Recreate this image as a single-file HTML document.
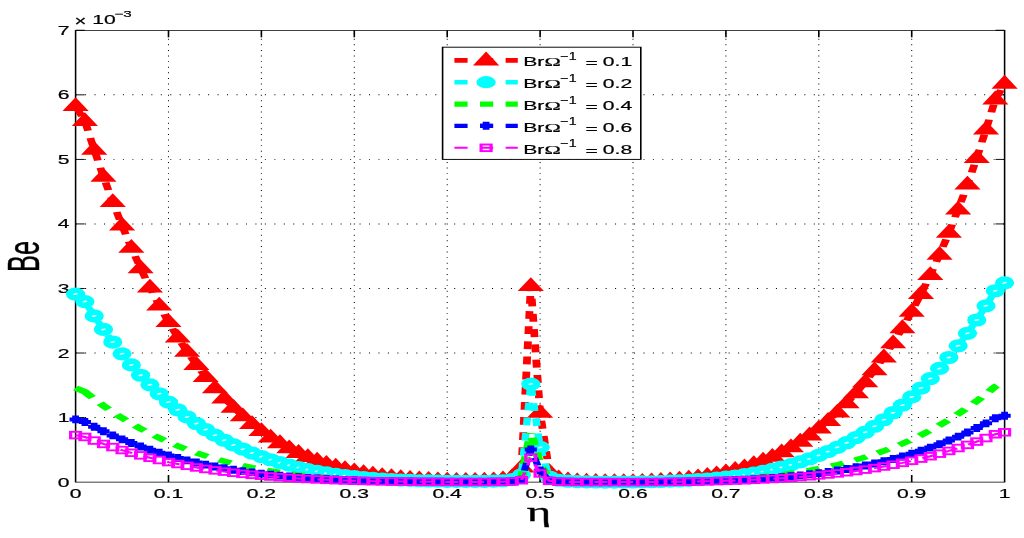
<!DOCTYPE html>
<html><head><meta charset="utf-8"><title>Be vs eta</title>
<style>html,body{margin:0;padding:0;background:#fff;overflow:hidden}svg{display:block}text{font-family:"Liberation Sans",sans-serif;fill:#000}.sym{font-family:"Liberation Serif",serif}</style></head><body>
<svg width="1024" height="538" viewBox="0 0 605.917 538" preserveAspectRatio="none">
<rect x="0" y="0" width="605.917" height="538" fill="#fff"/>
<g stroke="#000" fill="none">
<g stroke-width="0.62" stroke-dasharray="0.95 4.65">
<line x1="99.70" y1="482.1" x2="99.70" y2="30.3"/>
<line x1="154.67" y1="482.1" x2="154.67" y2="30.3"/>
<line x1="209.64" y1="482.1" x2="209.64" y2="30.3"/>
<line x1="264.62" y1="482.1" x2="264.62" y2="30.3"/>
<line x1="319.59" y1="482.1" x2="319.59" y2="30.3"/>
<line x1="374.56" y1="482.1" x2="374.56" y2="30.3"/>
<line x1="429.53" y1="482.1" x2="429.53" y2="30.3"/>
<line x1="484.50" y1="482.1" x2="484.50" y2="30.3"/>
<line x1="539.47" y1="482.1" x2="539.47" y2="30.3"/>
</g><g stroke-width="0.95" stroke-dasharray="0.62 4.98">
<line x1="44.73" y1="417.56" x2="594.44" y2="417.56"/>
<line x1="44.73" y1="353.01" x2="594.44" y2="353.01"/>
<line x1="44.73" y1="288.47" x2="594.44" y2="288.47"/>
<line x1="44.73" y1="223.93" x2="594.44" y2="223.93"/>
<line x1="44.73" y1="159.39" x2="594.44" y2="159.39"/>
<line x1="44.73" y1="94.84" x2="594.44" y2="94.84"/>
</g></g>
<g stroke="#000" stroke-width="0.95" fill="none">
<path d="M44.73 30.3H594.44" stroke-width="0.78" stroke-linecap="square"/>
<path d="M44.73 482.1H594.44" stroke-width="0.85" stroke-linecap="square"/>
<path d="M44.73 30.3h5.4M594.44 30.3h-5.4"/>
<path d="M44.73 30.3V482.1M594.44 30.3V482.1" stroke-width="0.92"/>
<line x1="99.70" y1="482.1" x2="99.70" y2="475.1"/><line x1="99.70" y1="30.3" x2="99.70" y2="37.3"/>
<line x1="154.67" y1="482.1" x2="154.67" y2="475.1"/><line x1="154.67" y1="30.3" x2="154.67" y2="37.3"/>
<line x1="209.64" y1="482.1" x2="209.64" y2="475.1"/><line x1="209.64" y1="30.3" x2="209.64" y2="37.3"/>
<line x1="264.62" y1="482.1" x2="264.62" y2="475.1"/><line x1="264.62" y1="30.3" x2="264.62" y2="37.3"/>
<line x1="319.59" y1="482.1" x2="319.59" y2="475.1"/><line x1="319.59" y1="30.3" x2="319.59" y2="37.3"/>
<line x1="374.56" y1="482.1" x2="374.56" y2="475.1"/><line x1="374.56" y1="30.3" x2="374.56" y2="37.3"/>
<line x1="429.53" y1="482.1" x2="429.53" y2="475.1"/><line x1="429.53" y1="30.3" x2="429.53" y2="37.3"/>
<line x1="484.50" y1="482.1" x2="484.50" y2="475.1"/><line x1="484.50" y1="30.3" x2="484.50" y2="37.3"/>
<line x1="539.47" y1="482.1" x2="539.47" y2="475.1"/><line x1="539.47" y1="30.3" x2="539.47" y2="37.3"/>
<line x1="44.73" y1="417.56" x2="50.13" y2="417.56"/><line x1="594.44" y1="417.56" x2="589.04" y2="417.56"/>
<line x1="44.73" y1="353.01" x2="50.13" y2="353.01"/><line x1="594.44" y1="353.01" x2="589.04" y2="353.01"/>
<line x1="44.73" y1="288.47" x2="50.13" y2="288.47"/><line x1="594.44" y1="288.47" x2="589.04" y2="288.47"/>
<line x1="44.73" y1="223.93" x2="50.13" y2="223.93"/><line x1="594.44" y1="223.93" x2="589.04" y2="223.93"/>
<line x1="44.73" y1="159.39" x2="50.13" y2="159.39"/><line x1="594.44" y1="159.39" x2="589.04" y2="159.39"/>
<line x1="44.73" y1="94.84" x2="50.13" y2="94.84"/><line x1="594.44" y1="94.84" x2="589.04" y2="94.84"/>
</g>
<g font-size="12.5" stroke="#000" stroke-width="0.2">
<text x="44.73" y="498.0" text-anchor="middle">0</text>
<text x="99.70" y="498.0" text-anchor="middle">0.1</text>
<text x="154.67" y="498.0" text-anchor="middle">0.2</text>
<text x="209.64" y="498.0" text-anchor="middle">0.3</text>
<text x="264.62" y="498.0" text-anchor="middle">0.4</text>
<text x="319.59" y="498.0" text-anchor="middle">0.5</text>
<text x="374.56" y="498.0" text-anchor="middle">0.6</text>
<text x="429.53" y="498.0" text-anchor="middle">0.7</text>
<text x="484.50" y="498.0" text-anchor="middle">0.8</text>
<text x="539.47" y="498.0" text-anchor="middle">0.9</text>
<text x="594.44" y="498.0" text-anchor="middle">1</text>
<text x="41.07" y="486.60" text-anchor="end">0</text>
<text x="41.07" y="422.06" text-anchor="end">1</text>
<text x="41.07" y="357.51" text-anchor="end">2</text>
<text x="41.07" y="292.97" text-anchor="end">3</text>
<text x="41.07" y="228.43" text-anchor="end">4</text>
<text x="41.07" y="163.89" text-anchor="end">5</text>
<text x="41.07" y="99.34" text-anchor="end">6</text>
<text x="41.07" y="34.80" text-anchor="end">7</text>
<text transform="translate(44.14 26.0) scale(0.9 1.08)" font-size="13.4">×</text>
<text x="54.62" y="24.3">10</text>
<text x="67.75" y="17" font-size="9">−3</text>
</g>
<text class="sym" transform="translate(318.88 521.1) scale(1.05 1)" font-size="26.4" text-anchor="middle" stroke="#000" stroke-width="0.3">η</text>
<text transform="translate(23.25 256.4) rotate(-90) scale(1 1.03)" font-size="25.4" stroke="#000" stroke-width="0.25" text-anchor="middle">Be</text>
<path d="M44.73 106.04L50.23 121.07L55.73 149.77L61.22 176.71L66.72 201.97L72.22 225.62L77.72 247.72L83.21 268.36L88.71 287.59L94.21 305.48L99.70 322.10L105.20 337.50L110.70 351.75L116.20 364.91L121.69 377.03L127.19 388.18L132.69 398.40L138.18 407.74L143.68 416.27L149.18 424.03L154.67 431.07L160.17 437.43L165.67 443.16L171.17 448.30L176.66 452.90L182.16 456.99L187.66 460.62L193.15 463.83L198.65 466.63L204.15 469.09L209.64 471.21L215.14 473.04L220.64 474.61L226.14 475.93L231.63 477.05L237.13 477.97L242.63 478.73L248.12 479.35L253.62 479.84L259.12 480.22L264.62 480.50L270.11 480.68L275.61 480.78L281.11 480.78L286.60 480.65L292.10 480.28L297.60 479.41L303.09 477.06L308.59 467.52L314.09 286.07" fill="none" stroke="#ff0000" stroke-width="4.6" stroke-dasharray="7.8 7.35" stroke-dashoffset="12.25" stroke-linejoin="miter"/>
<path d="M594.44 83.64L588.94 99.42L583.44 129.59L577.95 157.94L572.45 184.56L566.95 209.51L561.46 232.87L555.96 254.71L550.46 275.09L544.96 294.08L539.47 311.74L533.97 328.14L528.47 343.34L522.98 357.39L517.48 370.36L511.98 382.31L506.49 393.28L500.99 403.34L495.49 412.53L489.99 420.91L484.50 428.52L479.00 435.41L473.50 441.63L468.01 447.22L462.51 452.23L457.01 456.69L451.51 460.65L446.02 464.15L440.52 467.22L435.02 469.89L429.53 472.21L424.03 474.20L418.53 475.90L413.04 477.33L407.54 478.51L402.04 479.49L396.54 480.27L391.05 480.89L385.55 481.36L380.05 481.70L374.56 481.93L369.06 482.06L363.56 482.10L358.07 482.05L352.57 481.91L347.07 481.64L341.57 481.18L336.08 480.32L330.58 478.36L325.08 471.93L319.59 412.79L314.09 286.07" fill="none" stroke="#ff0000" stroke-width="4.6" stroke-dasharray="7.9 7.4" stroke-dashoffset="-6.65" stroke-linejoin="miter"/>
<g fill="#ff0000" stroke="none">
<path d="M36.98 111.04L52.48 111.04L44.73 97.24Z"/>
<path d="M42.48 126.07L57.98 126.07L50.23 112.27Z"/>
<path d="M47.98 154.77L63.48 154.77L55.73 140.97Z"/>
<path d="M53.47 181.71L68.97 181.71L61.22 167.91Z"/>
<path d="M58.97 206.97L74.47 206.97L66.72 193.17Z"/>
<path d="M64.47 230.62L79.97 230.62L72.22 216.82Z"/>
<path d="M69.97 252.72L85.47 252.72L77.72 238.92Z"/>
<path d="M75.46 273.36L90.96 273.36L83.21 259.56Z"/>
<path d="M80.96 292.59L96.46 292.59L88.71 278.79Z"/>
<path d="M86.46 310.48L101.96 310.48L94.21 296.68Z"/>
<path d="M91.95 327.10L107.45 327.10L99.70 313.30Z"/>
<path d="M97.45 342.50L112.95 342.50L105.20 328.70Z"/>
<path d="M102.95 356.75L118.45 356.75L110.70 342.95Z"/>
<path d="M108.45 369.91L123.95 369.91L116.20 356.11Z"/>
<path d="M113.94 382.03L129.44 382.03L121.69 368.23Z"/>
<path d="M119.44 393.18L134.94 393.18L127.19 379.38Z"/>
<path d="M124.94 403.40L140.44 403.40L132.69 389.60Z"/>
<path d="M130.43 412.74L145.93 412.74L138.18 398.94Z"/>
<path d="M135.93 421.27L151.43 421.27L143.68 407.47Z"/>
<path d="M141.43 429.03L156.93 429.03L149.18 415.23Z"/>
<path d="M146.92 436.07L162.42 436.07L154.67 422.27Z"/>
<path d="M152.42 442.43L167.92 442.43L160.17 428.63Z"/>
<path d="M157.92 448.16L173.42 448.16L165.67 434.36Z"/>
<path d="M163.42 453.30L178.92 453.30L171.17 439.50Z"/>
<path d="M168.91 457.90L184.41 457.90L176.66 444.10Z"/>
<path d="M174.41 461.99L189.91 461.99L182.16 448.19Z"/>
<path d="M179.91 465.62L195.41 465.62L187.66 451.82Z"/>
<path d="M185.40 468.83L200.90 468.83L193.15 455.03Z"/>
<path d="M190.90 471.63L206.40 471.63L198.65 457.83Z"/>
<path d="M196.40 474.09L211.90 474.09L204.15 460.29Z"/>
<path d="M201.89 476.21L217.39 476.21L209.64 462.41Z"/>
<path d="M207.39 478.04L222.89 478.04L215.14 464.24Z"/>
<path d="M212.89 479.61L228.39 479.61L220.64 465.81Z"/>
<path d="M218.39 480.93L233.89 480.93L226.14 467.13Z"/>
<path d="M223.88 482.05L239.38 482.05L231.63 468.25Z"/>
<path d="M229.38 482.97L244.88 482.97L237.13 469.17Z"/>
<path d="M234.88 483.73L250.38 483.73L242.63 469.93Z"/>
<path d="M240.37 484.35L255.87 484.35L248.12 470.55Z"/>
<path d="M245.87 484.84L261.37 484.84L253.62 471.04Z"/>
<path d="M251.37 485.22L266.87 485.22L259.12 471.42Z"/>
<path d="M256.87 485.50L272.37 485.50L264.62 471.70Z"/>
<path d="M262.36 485.68L277.86 485.68L270.11 471.88Z"/>
<path d="M267.86 485.78L283.36 485.78L275.61 471.98Z"/>
<path d="M273.36 485.78L288.86 485.78L281.11 471.98Z"/>
<path d="M278.85 485.65L294.35 485.65L286.60 471.85Z"/>
<path d="M284.35 485.28L299.85 485.28L292.10 471.48Z"/>
<path d="M289.85 484.41L305.35 484.41L297.60 470.61Z"/>
<path d="M295.34 482.06L310.84 482.06L303.09 468.26Z"/>
<path d="M300.84 472.52L316.34 472.52L308.59 458.72Z"/>
<path d="M306.34 291.07L321.84 291.07L314.09 277.27Z"/>
<path d="M311.84 417.79L327.34 417.79L319.59 403.99Z"/>
<path d="M317.33 476.93L332.83 476.93L325.08 463.13Z"/>
<path d="M322.83 483.36L338.33 483.36L330.58 469.56Z"/>
<path d="M328.33 485.32L343.83 485.32L336.08 471.52Z"/>
<path d="M333.82 486.18L349.32 486.18L341.57 472.38Z"/>
<path d="M339.32 486.64L354.82 486.64L347.07 472.84Z"/>
<path d="M344.82 486.91L360.32 486.91L352.57 473.11Z"/>
<path d="M350.32 487.05L365.82 487.05L358.07 473.25Z"/>
<path d="M355.81 487.10L371.31 487.10L363.56 473.30Z"/>
<path d="M361.31 487.06L376.81 487.06L369.06 473.26Z"/>
<path d="M366.81 486.93L382.31 486.93L374.56 473.13Z"/>
<path d="M372.30 486.70L387.80 486.70L380.05 472.90Z"/>
<path d="M377.80 486.36L393.30 486.36L385.55 472.56Z"/>
<path d="M383.30 485.89L398.80 485.89L391.05 472.09Z"/>
<path d="M388.79 485.27L404.29 485.27L396.54 471.47Z"/>
<path d="M394.29 484.49L409.79 484.49L402.04 470.69Z"/>
<path d="M399.79 483.51L415.29 483.51L407.54 469.71Z"/>
<path d="M405.29 482.33L420.79 482.33L413.04 468.53Z"/>
<path d="M410.78 480.90L426.28 480.90L418.53 467.10Z"/>
<path d="M416.28 479.20L431.78 479.20L424.03 465.40Z"/>
<path d="M421.78 477.21L437.28 477.21L429.53 463.41Z"/>
<path d="M427.27 474.89L442.77 474.89L435.02 461.09Z"/>
<path d="M432.77 472.22L448.27 472.22L440.52 458.42Z"/>
<path d="M438.27 469.15L453.77 469.15L446.02 455.35Z"/>
<path d="M443.76 465.65L459.26 465.65L451.51 451.85Z"/>
<path d="M449.26 461.69L464.76 461.69L457.01 447.89Z"/>
<path d="M454.76 457.23L470.26 457.23L462.51 443.43Z"/>
<path d="M460.26 452.22L475.76 452.22L468.01 438.42Z"/>
<path d="M465.75 446.63L481.25 446.63L473.50 432.83Z"/>
<path d="M471.25 440.41L486.75 440.41L479.00 426.61Z"/>
<path d="M476.75 433.52L492.25 433.52L484.50 419.72Z"/>
<path d="M482.24 425.91L497.74 425.91L489.99 412.11Z"/>
<path d="M487.74 417.53L503.24 417.53L495.49 403.73Z"/>
<path d="M493.24 408.34L508.74 408.34L500.99 394.54Z"/>
<path d="M498.74 398.28L514.24 398.28L506.49 384.48Z"/>
<path d="M504.23 387.31L519.73 387.31L511.98 373.51Z"/>
<path d="M509.73 375.36L525.23 375.36L517.48 361.56Z"/>
<path d="M515.23 362.39L530.73 362.39L522.98 348.59Z"/>
<path d="M520.72 348.34L536.22 348.34L528.47 334.54Z"/>
<path d="M526.22 333.14L541.72 333.14L533.97 319.34Z"/>
<path d="M531.72 316.74L547.22 316.74L539.47 302.94Z"/>
<path d="M537.21 299.08L552.71 299.08L544.96 285.28Z"/>
<path d="M542.71 280.09L558.21 280.09L550.46 266.29Z"/>
<path d="M548.21 259.71L563.71 259.71L555.96 245.91Z"/>
<path d="M553.71 237.87L569.21 237.87L561.46 224.07Z"/>
<path d="M559.20 214.51L574.70 214.51L566.95 200.71Z"/>
<path d="M564.70 189.56L580.20 189.56L572.45 175.76Z"/>
<path d="M570.20 162.94L585.70 162.94L577.95 149.14Z"/>
<path d="M575.69 134.59L591.19 134.59L583.44 120.79Z"/>
<path d="M581.19 104.42L596.69 104.42L588.94 90.62Z"/>
<path d="M586.69 88.64L602.19 88.64L594.44 74.84Z"/>
</g>
<path d="M44.73 294.07L50.23 301.59L55.73 315.93L61.22 329.40L66.72 342.03L72.22 353.86L77.72 364.91L83.21 375.23L88.71 384.84L94.21 393.79L99.70 402.10L105.20 409.80L110.70 416.93L116.20 423.50L121.69 429.57L127.19 435.14L132.69 440.25L138.18 444.92L143.68 449.19L149.18 453.06L154.67 456.58L160.17 459.76L165.67 462.63L171.17 465.20L176.66 467.50L182.16 469.55L187.66 471.36L193.15 472.96L198.65 474.37L204.15 475.59L209.64 476.66L215.14 477.57L220.64 478.35L226.14 479.02L231.63 479.57L237.13 480.04L242.63 480.42L248.12 480.73L253.62 480.97L259.12 481.16L264.62 481.30L270.11 481.39L275.61 481.44L281.11 481.44L286.60 481.37L292.10 481.19L297.60 480.76L303.09 479.58L308.59 474.81L314.09 384.08L319.59 447.44L325.08 477.02L330.58 480.23L336.08 481.21L341.57 481.64L347.07 481.87L352.57 482.00L358.07 482.08L363.56 482.10L369.06 482.08L374.56 482.02L380.05 481.90L385.55 481.73L391.05 481.50L396.54 481.19L402.04 480.79L407.54 480.31L413.04 479.71L418.53 479.00L424.03 478.15L429.53 477.16L435.02 476.00L440.52 474.66L446.02 473.12L451.51 471.38L457.01 469.40L462.51 467.16L468.01 464.66L473.50 461.86L479.00 458.75L484.50 455.31L489.99 451.50L495.49 447.32L500.99 442.72L506.49 437.69L511.98 432.21L517.48 426.23L522.98 419.75L528.47 412.72L533.97 405.12L539.47 396.92L544.96 388.09L550.46 378.59L555.96 368.40L561.46 357.49L566.95 345.81L572.45 333.33L577.95 320.02L583.44 305.84L588.94 290.76L594.44 282.87" fill="none" stroke="#00ffff" stroke-width="4.4" stroke-dasharray="7.8 7.35" stroke-dashoffset="0" stroke-linejoin="miter"/>
<g fill="#00ffff" stroke="none">
<ellipse cx="44.73" cy="294.07" rx="5.68" ry="6.6"/><ellipse cx="44.73" cy="294.07" rx="1.55" ry="0.8" fill="#fff" fill-opacity="0.9" transform="rotate(-22 44.73 294.07)"/>
<ellipse cx="50.23" cy="301.59" rx="5.68" ry="6.6"/><ellipse cx="50.23" cy="301.59" rx="1.55" ry="0.8" fill="#fff" fill-opacity="0.9" transform="rotate(-22 50.23 301.59)"/>
<ellipse cx="55.73" cy="315.93" rx="5.68" ry="6.6"/><ellipse cx="55.73" cy="315.93" rx="1.55" ry="0.8" fill="#fff" fill-opacity="0.9" transform="rotate(-22 55.73 315.93)"/>
<ellipse cx="61.22" cy="329.40" rx="5.68" ry="6.6"/><ellipse cx="61.22" cy="329.40" rx="1.55" ry="0.8" fill="#fff" fill-opacity="0.9" transform="rotate(-22 61.22 329.40)"/>
<ellipse cx="66.72" cy="342.03" rx="5.68" ry="6.6"/><ellipse cx="66.72" cy="342.03" rx="1.55" ry="0.8" fill="#fff" fill-opacity="0.9" transform="rotate(-22 66.72 342.03)"/>
<ellipse cx="72.22" cy="353.86" rx="5.68" ry="6.6"/><ellipse cx="72.22" cy="353.86" rx="1.55" ry="0.8" fill="#fff" fill-opacity="0.9" transform="rotate(-22 72.22 353.86)"/>
<ellipse cx="77.72" cy="364.91" rx="5.68" ry="6.6"/><ellipse cx="77.72" cy="364.91" rx="1.55" ry="0.8" fill="#fff" fill-opacity="0.9" transform="rotate(-22 77.72 364.91)"/>
<ellipse cx="83.21" cy="375.23" rx="5.68" ry="6.6"/><ellipse cx="83.21" cy="375.23" rx="1.55" ry="0.8" fill="#fff" fill-opacity="0.9" transform="rotate(-22 83.21 375.23)"/>
<ellipse cx="88.71" cy="384.84" rx="5.68" ry="6.6"/><ellipse cx="88.71" cy="384.84" rx="1.55" ry="0.8" fill="#fff" fill-opacity="0.9" transform="rotate(-22 88.71 384.84)"/>
<ellipse cx="94.21" cy="393.79" rx="5.68" ry="6.6"/><ellipse cx="94.21" cy="393.79" rx="1.55" ry="0.8" fill="#fff" fill-opacity="0.9" transform="rotate(-22 94.21 393.79)"/>
<ellipse cx="99.70" cy="402.10" rx="5.68" ry="6.6"/><ellipse cx="99.70" cy="402.10" rx="1.55" ry="0.8" fill="#fff" fill-opacity="0.9" transform="rotate(-22 99.70 402.10)"/>
<ellipse cx="105.20" cy="409.80" rx="5.68" ry="6.6"/><ellipse cx="105.20" cy="409.80" rx="1.55" ry="0.8" fill="#fff" fill-opacity="0.9" transform="rotate(-22 105.20 409.80)"/>
<ellipse cx="110.70" cy="416.93" rx="5.68" ry="6.6"/><ellipse cx="110.70" cy="416.93" rx="1.55" ry="0.8" fill="#fff" fill-opacity="0.9" transform="rotate(-22 110.70 416.93)"/>
<ellipse cx="116.20" cy="423.50" rx="5.68" ry="6.6"/><ellipse cx="116.20" cy="423.50" rx="1.55" ry="0.8" fill="#fff" fill-opacity="0.9" transform="rotate(-22 116.20 423.50)"/>
<ellipse cx="121.69" cy="429.57" rx="5.68" ry="6.6"/><ellipse cx="121.69" cy="429.57" rx="1.55" ry="0.8" fill="#fff" fill-opacity="0.9" transform="rotate(-22 121.69 429.57)"/>
<ellipse cx="127.19" cy="435.14" rx="5.68" ry="6.6"/><ellipse cx="127.19" cy="435.14" rx="1.55" ry="0.8" fill="#fff" fill-opacity="0.9" transform="rotate(-22 127.19 435.14)"/>
<ellipse cx="132.69" cy="440.25" rx="5.68" ry="6.6"/><ellipse cx="132.69" cy="440.25" rx="1.55" ry="0.8" fill="#fff" fill-opacity="0.9" transform="rotate(-22 132.69 440.25)"/>
<ellipse cx="138.18" cy="444.92" rx="5.68" ry="6.6"/><ellipse cx="138.18" cy="444.92" rx="1.55" ry="0.8" fill="#fff" fill-opacity="0.9" transform="rotate(-22 138.18 444.92)"/>
<ellipse cx="143.68" cy="449.19" rx="5.68" ry="6.6"/><ellipse cx="143.68" cy="449.19" rx="1.55" ry="0.8" fill="#fff" fill-opacity="0.9" transform="rotate(-22 143.68 449.19)"/>
<ellipse cx="149.18" cy="453.06" rx="5.68" ry="6.6"/><ellipse cx="149.18" cy="453.06" rx="1.55" ry="0.8" fill="#fff" fill-opacity="0.9" transform="rotate(-22 149.18 453.06)"/>
<ellipse cx="154.67" cy="456.58" rx="5.68" ry="6.6"/><ellipse cx="154.67" cy="456.58" rx="1.55" ry="0.8" fill="#fff" fill-opacity="0.9" transform="rotate(-22 154.67 456.58)"/>
<ellipse cx="160.17" cy="459.76" rx="5.68" ry="6.6"/><ellipse cx="160.17" cy="459.76" rx="1.55" ry="0.8" fill="#fff" fill-opacity="0.9" transform="rotate(-22 160.17 459.76)"/>
<ellipse cx="165.67" cy="462.63" rx="5.68" ry="6.6"/><ellipse cx="165.67" cy="462.63" rx="1.55" ry="0.8" fill="#fff" fill-opacity="0.9" transform="rotate(-22 165.67 462.63)"/>
<ellipse cx="171.17" cy="465.20" rx="5.68" ry="6.6"/><ellipse cx="171.17" cy="465.20" rx="1.55" ry="0.8" fill="#fff" fill-opacity="0.9" transform="rotate(-22 171.17 465.20)"/>
<ellipse cx="176.66" cy="467.50" rx="5.68" ry="6.6"/><ellipse cx="176.66" cy="467.50" rx="1.55" ry="0.8" fill="#fff" fill-opacity="0.9" transform="rotate(-22 176.66 467.50)"/>
<ellipse cx="182.16" cy="469.55" rx="5.68" ry="6.6"/><ellipse cx="182.16" cy="469.55" rx="1.55" ry="0.8" fill="#fff" fill-opacity="0.9" transform="rotate(-22 182.16 469.55)"/>
<ellipse cx="187.66" cy="471.36" rx="5.68" ry="6.6"/><ellipse cx="187.66" cy="471.36" rx="1.55" ry="0.8" fill="#fff" fill-opacity="0.9" transform="rotate(-22 187.66 471.36)"/>
<ellipse cx="193.15" cy="472.96" rx="5.68" ry="6.6"/><ellipse cx="193.15" cy="472.96" rx="1.55" ry="0.8" fill="#fff" fill-opacity="0.9" transform="rotate(-22 193.15 472.96)"/>
<ellipse cx="198.65" cy="474.37" rx="5.68" ry="6.6"/><ellipse cx="198.65" cy="474.37" rx="1.55" ry="0.8" fill="#fff" fill-opacity="0.9" transform="rotate(-22 198.65 474.37)"/>
<ellipse cx="204.15" cy="475.59" rx="5.68" ry="6.6"/><ellipse cx="204.15" cy="475.59" rx="1.55" ry="0.8" fill="#fff" fill-opacity="0.9" transform="rotate(-22 204.15 475.59)"/>
<ellipse cx="209.64" cy="476.66" rx="5.68" ry="6.6"/><ellipse cx="209.64" cy="476.66" rx="1.55" ry="0.8" fill="#fff" fill-opacity="0.9" transform="rotate(-22 209.64 476.66)"/>
<ellipse cx="215.14" cy="477.57" rx="5.68" ry="6.6"/><ellipse cx="215.14" cy="477.57" rx="1.55" ry="0.8" fill="#fff" fill-opacity="0.9" transform="rotate(-22 215.14 477.57)"/>
<ellipse cx="220.64" cy="478.35" rx="5.68" ry="6.6"/><ellipse cx="220.64" cy="478.35" rx="1.55" ry="0.8" fill="#fff" fill-opacity="0.9" transform="rotate(-22 220.64 478.35)"/>
<ellipse cx="226.14" cy="479.02" rx="5.68" ry="6.6"/><ellipse cx="226.14" cy="479.02" rx="1.55" ry="0.8" fill="#fff" fill-opacity="0.9" transform="rotate(-22 226.14 479.02)"/>
<ellipse cx="231.63" cy="479.57" rx="5.68" ry="6.6"/><ellipse cx="231.63" cy="479.57" rx="1.55" ry="0.8" fill="#fff" fill-opacity="0.9" transform="rotate(-22 231.63 479.57)"/>
<ellipse cx="237.13" cy="480.04" rx="5.68" ry="6.6"/><ellipse cx="237.13" cy="480.04" rx="1.55" ry="0.8" fill="#fff" fill-opacity="0.9" transform="rotate(-22 237.13 480.04)"/>
<ellipse cx="242.63" cy="480.42" rx="5.68" ry="6.6"/><ellipse cx="242.63" cy="480.42" rx="1.55" ry="0.8" fill="#fff" fill-opacity="0.9" transform="rotate(-22 242.63 480.42)"/>
<ellipse cx="248.12" cy="480.73" rx="5.68" ry="6.6"/><ellipse cx="248.12" cy="480.73" rx="1.55" ry="0.8" fill="#fff" fill-opacity="0.9" transform="rotate(-22 248.12 480.73)"/>
<ellipse cx="253.62" cy="480.97" rx="5.68" ry="6.6"/><ellipse cx="253.62" cy="480.97" rx="1.55" ry="0.8" fill="#fff" fill-opacity="0.9" transform="rotate(-22 253.62 480.97)"/>
<ellipse cx="259.12" cy="481.16" rx="5.68" ry="6.6"/><ellipse cx="259.12" cy="481.16" rx="1.55" ry="0.8" fill="#fff" fill-opacity="0.9" transform="rotate(-22 259.12 481.16)"/>
<ellipse cx="264.62" cy="481.30" rx="5.68" ry="6.6"/><ellipse cx="264.62" cy="481.30" rx="1.55" ry="0.8" fill="#fff" fill-opacity="0.9" transform="rotate(-22 264.62 481.30)"/>
<ellipse cx="270.11" cy="481.39" rx="5.68" ry="6.6"/><ellipse cx="270.11" cy="481.39" rx="1.55" ry="0.8" fill="#fff" fill-opacity="0.9" transform="rotate(-22 270.11 481.39)"/>
<ellipse cx="275.61" cy="481.44" rx="5.68" ry="6.6"/><ellipse cx="275.61" cy="481.44" rx="1.55" ry="0.8" fill="#fff" fill-opacity="0.9" transform="rotate(-22 275.61 481.44)"/>
<ellipse cx="281.11" cy="481.44" rx="5.68" ry="6.6"/><ellipse cx="281.11" cy="481.44" rx="1.55" ry="0.8" fill="#fff" fill-opacity="0.9" transform="rotate(-22 281.11 481.44)"/>
<ellipse cx="286.60" cy="481.37" rx="5.68" ry="6.6"/><ellipse cx="286.60" cy="481.37" rx="1.55" ry="0.8" fill="#fff" fill-opacity="0.9" transform="rotate(-22 286.60 481.37)"/>
<ellipse cx="292.10" cy="481.19" rx="5.68" ry="6.6"/><ellipse cx="292.10" cy="481.19" rx="1.55" ry="0.8" fill="#fff" fill-opacity="0.9" transform="rotate(-22 292.10 481.19)"/>
<ellipse cx="297.60" cy="480.76" rx="5.68" ry="6.6"/><ellipse cx="297.60" cy="480.76" rx="1.55" ry="0.8" fill="#fff" fill-opacity="0.9" transform="rotate(-22 297.60 480.76)"/>
<ellipse cx="303.09" cy="479.58" rx="5.68" ry="6.6"/><ellipse cx="303.09" cy="479.58" rx="1.55" ry="0.8" fill="#fff" fill-opacity="0.9" transform="rotate(-22 303.09 479.58)"/>
<ellipse cx="308.59" cy="474.81" rx="5.68" ry="6.6"/><ellipse cx="308.59" cy="474.81" rx="1.55" ry="0.8" fill="#fff" fill-opacity="0.9" transform="rotate(-22 308.59 474.81)"/>
<ellipse cx="314.09" cy="384.08" rx="5.68" ry="6.6"/><ellipse cx="314.09" cy="384.08" rx="1.55" ry="0.8" fill="#fff" fill-opacity="0.9" transform="rotate(-22 314.09 384.08)"/>
<ellipse cx="319.59" cy="447.44" rx="5.68" ry="6.6"/><ellipse cx="319.59" cy="447.44" rx="1.55" ry="0.8" fill="#fff" fill-opacity="0.9" transform="rotate(-22 319.59 447.44)"/>
<ellipse cx="325.08" cy="477.02" rx="5.68" ry="6.6"/><ellipse cx="325.08" cy="477.02" rx="1.55" ry="0.8" fill="#fff" fill-opacity="0.9" transform="rotate(-22 325.08 477.02)"/>
<ellipse cx="330.58" cy="480.23" rx="5.68" ry="6.6"/><ellipse cx="330.58" cy="480.23" rx="1.55" ry="0.8" fill="#fff" fill-opacity="0.9" transform="rotate(-22 330.58 480.23)"/>
<ellipse cx="336.08" cy="481.21" rx="5.68" ry="6.6"/><ellipse cx="336.08" cy="481.21" rx="1.55" ry="0.8" fill="#fff" fill-opacity="0.9" transform="rotate(-22 336.08 481.21)"/>
<ellipse cx="341.57" cy="481.64" rx="5.68" ry="6.6"/><ellipse cx="341.57" cy="481.64" rx="1.55" ry="0.8" fill="#fff" fill-opacity="0.9" transform="rotate(-22 341.57 481.64)"/>
<ellipse cx="347.07" cy="481.87" rx="5.68" ry="6.6"/><ellipse cx="347.07" cy="481.87" rx="1.55" ry="0.8" fill="#fff" fill-opacity="0.9" transform="rotate(-22 347.07 481.87)"/>
<ellipse cx="352.57" cy="482.00" rx="5.68" ry="6.6"/><ellipse cx="352.57" cy="482.00" rx="1.55" ry="0.8" fill="#fff" fill-opacity="0.9" transform="rotate(-22 352.57 482.00)"/>
<ellipse cx="358.07" cy="482.08" rx="5.68" ry="6.6"/><ellipse cx="358.07" cy="482.08" rx="1.55" ry="0.8" fill="#fff" fill-opacity="0.9" transform="rotate(-22 358.07 482.08)"/>
<ellipse cx="363.56" cy="482.10" rx="5.68" ry="6.6"/><ellipse cx="363.56" cy="482.10" rx="1.55" ry="0.8" fill="#fff" fill-opacity="0.9" transform="rotate(-22 363.56 482.10)"/>
<ellipse cx="369.06" cy="482.08" rx="5.68" ry="6.6"/><ellipse cx="369.06" cy="482.08" rx="1.55" ry="0.8" fill="#fff" fill-opacity="0.9" transform="rotate(-22 369.06 482.08)"/>
<ellipse cx="374.56" cy="482.02" rx="5.68" ry="6.6"/><ellipse cx="374.56" cy="482.02" rx="1.55" ry="0.8" fill="#fff" fill-opacity="0.9" transform="rotate(-22 374.56 482.02)"/>
<ellipse cx="380.05" cy="481.90" rx="5.68" ry="6.6"/><ellipse cx="380.05" cy="481.90" rx="1.55" ry="0.8" fill="#fff" fill-opacity="0.9" transform="rotate(-22 380.05 481.90)"/>
<ellipse cx="385.55" cy="481.73" rx="5.68" ry="6.6"/><ellipse cx="385.55" cy="481.73" rx="1.55" ry="0.8" fill="#fff" fill-opacity="0.9" transform="rotate(-22 385.55 481.73)"/>
<ellipse cx="391.05" cy="481.50" rx="5.68" ry="6.6"/><ellipse cx="391.05" cy="481.50" rx="1.55" ry="0.8" fill="#fff" fill-opacity="0.9" transform="rotate(-22 391.05 481.50)"/>
<ellipse cx="396.54" cy="481.19" rx="5.68" ry="6.6"/><ellipse cx="396.54" cy="481.19" rx="1.55" ry="0.8" fill="#fff" fill-opacity="0.9" transform="rotate(-22 396.54 481.19)"/>
<ellipse cx="402.04" cy="480.79" rx="5.68" ry="6.6"/><ellipse cx="402.04" cy="480.79" rx="1.55" ry="0.8" fill="#fff" fill-opacity="0.9" transform="rotate(-22 402.04 480.79)"/>
<ellipse cx="407.54" cy="480.31" rx="5.68" ry="6.6"/><ellipse cx="407.54" cy="480.31" rx="1.55" ry="0.8" fill="#fff" fill-opacity="0.9" transform="rotate(-22 407.54 480.31)"/>
<ellipse cx="413.04" cy="479.71" rx="5.68" ry="6.6"/><ellipse cx="413.04" cy="479.71" rx="1.55" ry="0.8" fill="#fff" fill-opacity="0.9" transform="rotate(-22 413.04 479.71)"/>
<ellipse cx="418.53" cy="479.00" rx="5.68" ry="6.6"/><ellipse cx="418.53" cy="479.00" rx="1.55" ry="0.8" fill="#fff" fill-opacity="0.9" transform="rotate(-22 418.53 479.00)"/>
<ellipse cx="424.03" cy="478.15" rx="5.68" ry="6.6"/><ellipse cx="424.03" cy="478.15" rx="1.55" ry="0.8" fill="#fff" fill-opacity="0.9" transform="rotate(-22 424.03 478.15)"/>
<ellipse cx="429.53" cy="477.16" rx="5.68" ry="6.6"/><ellipse cx="429.53" cy="477.16" rx="1.55" ry="0.8" fill="#fff" fill-opacity="0.9" transform="rotate(-22 429.53 477.16)"/>
<ellipse cx="435.02" cy="476.00" rx="5.68" ry="6.6"/><ellipse cx="435.02" cy="476.00" rx="1.55" ry="0.8" fill="#fff" fill-opacity="0.9" transform="rotate(-22 435.02 476.00)"/>
<ellipse cx="440.52" cy="474.66" rx="5.68" ry="6.6"/><ellipse cx="440.52" cy="474.66" rx="1.55" ry="0.8" fill="#fff" fill-opacity="0.9" transform="rotate(-22 440.52 474.66)"/>
<ellipse cx="446.02" cy="473.12" rx="5.68" ry="6.6"/><ellipse cx="446.02" cy="473.12" rx="1.55" ry="0.8" fill="#fff" fill-opacity="0.9" transform="rotate(-22 446.02 473.12)"/>
<ellipse cx="451.51" cy="471.38" rx="5.68" ry="6.6"/><ellipse cx="451.51" cy="471.38" rx="1.55" ry="0.8" fill="#fff" fill-opacity="0.9" transform="rotate(-22 451.51 471.38)"/>
<ellipse cx="457.01" cy="469.40" rx="5.68" ry="6.6"/><ellipse cx="457.01" cy="469.40" rx="1.55" ry="0.8" fill="#fff" fill-opacity="0.9" transform="rotate(-22 457.01 469.40)"/>
<ellipse cx="462.51" cy="467.16" rx="5.68" ry="6.6"/><ellipse cx="462.51" cy="467.16" rx="1.55" ry="0.8" fill="#fff" fill-opacity="0.9" transform="rotate(-22 462.51 467.16)"/>
<ellipse cx="468.01" cy="464.66" rx="5.68" ry="6.6"/><ellipse cx="468.01" cy="464.66" rx="1.55" ry="0.8" fill="#fff" fill-opacity="0.9" transform="rotate(-22 468.01 464.66)"/>
<ellipse cx="473.50" cy="461.86" rx="5.68" ry="6.6"/><ellipse cx="473.50" cy="461.86" rx="1.55" ry="0.8" fill="#fff" fill-opacity="0.9" transform="rotate(-22 473.50 461.86)"/>
<ellipse cx="479.00" cy="458.75" rx="5.68" ry="6.6"/><ellipse cx="479.00" cy="458.75" rx="1.55" ry="0.8" fill="#fff" fill-opacity="0.9" transform="rotate(-22 479.00 458.75)"/>
<ellipse cx="484.50" cy="455.31" rx="5.68" ry="6.6"/><ellipse cx="484.50" cy="455.31" rx="1.55" ry="0.8" fill="#fff" fill-opacity="0.9" transform="rotate(-22 484.50 455.31)"/>
<ellipse cx="489.99" cy="451.50" rx="5.68" ry="6.6"/><ellipse cx="489.99" cy="451.50" rx="1.55" ry="0.8" fill="#fff" fill-opacity="0.9" transform="rotate(-22 489.99 451.50)"/>
<ellipse cx="495.49" cy="447.32" rx="5.68" ry="6.6"/><ellipse cx="495.49" cy="447.32" rx="1.55" ry="0.8" fill="#fff" fill-opacity="0.9" transform="rotate(-22 495.49 447.32)"/>
<ellipse cx="500.99" cy="442.72" rx="5.68" ry="6.6"/><ellipse cx="500.99" cy="442.72" rx="1.55" ry="0.8" fill="#fff" fill-opacity="0.9" transform="rotate(-22 500.99 442.72)"/>
<ellipse cx="506.49" cy="437.69" rx="5.68" ry="6.6"/><ellipse cx="506.49" cy="437.69" rx="1.55" ry="0.8" fill="#fff" fill-opacity="0.9" transform="rotate(-22 506.49 437.69)"/>
<ellipse cx="511.98" cy="432.21" rx="5.68" ry="6.6"/><ellipse cx="511.98" cy="432.21" rx="1.55" ry="0.8" fill="#fff" fill-opacity="0.9" transform="rotate(-22 511.98 432.21)"/>
<ellipse cx="517.48" cy="426.23" rx="5.68" ry="6.6"/><ellipse cx="517.48" cy="426.23" rx="1.55" ry="0.8" fill="#fff" fill-opacity="0.9" transform="rotate(-22 517.48 426.23)"/>
<ellipse cx="522.98" cy="419.75" rx="5.68" ry="6.6"/><ellipse cx="522.98" cy="419.75" rx="1.55" ry="0.8" fill="#fff" fill-opacity="0.9" transform="rotate(-22 522.98 419.75)"/>
<ellipse cx="528.47" cy="412.72" rx="5.68" ry="6.6"/><ellipse cx="528.47" cy="412.72" rx="1.55" ry="0.8" fill="#fff" fill-opacity="0.9" transform="rotate(-22 528.47 412.72)"/>
<ellipse cx="533.97" cy="405.12" rx="5.68" ry="6.6"/><ellipse cx="533.97" cy="405.12" rx="1.55" ry="0.8" fill="#fff" fill-opacity="0.9" transform="rotate(-22 533.97 405.12)"/>
<ellipse cx="539.47" cy="396.92" rx="5.68" ry="6.6"/><ellipse cx="539.47" cy="396.92" rx="1.55" ry="0.8" fill="#fff" fill-opacity="0.9" transform="rotate(-22 539.47 396.92)"/>
<ellipse cx="544.96" cy="388.09" rx="5.68" ry="6.6"/><ellipse cx="544.96" cy="388.09" rx="1.55" ry="0.8" fill="#fff" fill-opacity="0.9" transform="rotate(-22 544.96 388.09)"/>
<ellipse cx="550.46" cy="378.59" rx="5.68" ry="6.6"/><ellipse cx="550.46" cy="378.59" rx="1.55" ry="0.8" fill="#fff" fill-opacity="0.9" transform="rotate(-22 550.46 378.59)"/>
<ellipse cx="555.96" cy="368.40" rx="5.68" ry="6.6"/><ellipse cx="555.96" cy="368.40" rx="1.55" ry="0.8" fill="#fff" fill-opacity="0.9" transform="rotate(-22 555.96 368.40)"/>
<ellipse cx="561.46" cy="357.49" rx="5.68" ry="6.6"/><ellipse cx="561.46" cy="357.49" rx="1.55" ry="0.8" fill="#fff" fill-opacity="0.9" transform="rotate(-22 561.46 357.49)"/>
<ellipse cx="566.95" cy="345.81" rx="5.68" ry="6.6"/><ellipse cx="566.95" cy="345.81" rx="1.55" ry="0.8" fill="#fff" fill-opacity="0.9" transform="rotate(-22 566.95 345.81)"/>
<ellipse cx="572.45" cy="333.33" rx="5.68" ry="6.6"/><ellipse cx="572.45" cy="333.33" rx="1.55" ry="0.8" fill="#fff" fill-opacity="0.9" transform="rotate(-22 572.45 333.33)"/>
<ellipse cx="577.95" cy="320.02" rx="5.68" ry="6.6"/><ellipse cx="577.95" cy="320.02" rx="1.55" ry="0.8" fill="#fff" fill-opacity="0.9" transform="rotate(-22 577.95 320.02)"/>
<ellipse cx="583.44" cy="305.84" rx="5.68" ry="6.6"/><ellipse cx="583.44" cy="305.84" rx="1.55" ry="0.8" fill="#fff" fill-opacity="0.9" transform="rotate(-22 583.44 305.84)"/>
<ellipse cx="588.94" cy="290.76" rx="5.68" ry="6.6"/><ellipse cx="588.94" cy="290.76" rx="1.55" ry="0.8" fill="#fff" fill-opacity="0.9" transform="rotate(-22 588.94 290.76)"/>
<ellipse cx="594.44" cy="282.87" rx="5.68" ry="6.6"/><ellipse cx="594.44" cy="282.87" rx="1.55" ry="0.8" fill="#fff" fill-opacity="0.9" transform="rotate(-22 594.44 282.87)"/>
</g>
<path d="M44.73 388.09L50.23 391.84L55.73 399.02L61.22 405.75L66.72 412.07L72.22 417.98L77.72 423.51L83.21 428.66L88.71 433.47L94.21 437.95L99.70 442.10L105.20 445.95L110.70 449.51L116.20 452.80L121.69 455.83L127.19 458.62L132.69 461.17L138.18 463.51L143.68 465.64L149.18 467.58L154.67 469.34L160.17 470.93L165.67 472.36L171.17 473.65L176.66 474.80L182.16 475.82L187.66 476.73L193.15 477.53L198.65 478.23L204.15 478.85L209.64 479.38L215.14 479.84L220.64 480.23L226.14 480.56L231.63 480.84L237.13 481.07L242.63 481.26L248.12 481.41L253.62 481.53L259.12 481.63L264.62 481.70L270.11 481.75L275.61 481.77L281.11 481.77L286.60 481.74L292.10 481.65L297.60 481.43L303.09 480.84L308.59 478.45L314.09 433.09" fill="none" stroke="#00ff00" stroke-width="5.4" stroke-dasharray="13.9 7.35 7.8 7.35 7.8 7.35 7.8 7.35 7.8 7.35 7.8 7.35 7.8 7.35 7.8 7.35 7.8 7.35 7.8 7.35 7.8 7.35 7.8 7.35 7.8 7.35 7.8 7.35 7.8 7.35 7.8 7.35 7.8 7.35 7.8 7.35 7.8 7.35 7.8 7.35 7.8 7.35 7.8 7.35 7.8 7.35 7.8 7.35 7.8 7.35 7.8 7.35 7.8 7.35 7.8 7.35 7.8 7.35 7.8 7.35 7.8 7.35 7.8 7.35 7.8 7.35 7.8 7.35 7.8 7.35 7.8 7.35 7.8 7.35 7.8 7.35 7.8 7.35 7.8 7.35 7.8 7.35 7.8 7.35 7.8 7.35 7.8 7.35 7.8 7.35 7.8 7.35 7.8 7.35 7.8 7.35 7.8 7.35 7.8 7.35 7.8 7.35 7.8 7.35 7.8 7.35 7.8 7.35 7.8 7.35 7.8 7.35 7.8 7.35 7.8 7.35 7.8 7.35 7.8 7.35 7.8 7.35" stroke-dashoffset="0" stroke-linejoin="miter"/>
<path d="M594.44 382.48L588.94 386.43L583.44 393.97L577.95 401.06L572.45 407.71L566.95 413.95L561.46 419.79L555.96 425.25L550.46 430.35L544.96 435.09L539.47 439.51L533.97 443.61L528.47 447.41L522.98 450.92L517.48 454.17L511.98 457.15L506.49 459.90L500.99 462.41L495.49 464.71L489.99 466.80L484.50 468.70L479.00 470.43L473.50 471.98L468.01 473.38L462.51 474.63L457.01 475.75L451.51 476.74L446.02 477.61L440.52 478.38L435.02 479.05L429.53 479.63L424.03 480.13L418.53 480.55L413.04 480.91L407.54 481.20L402.04 481.45L396.54 481.64L391.05 481.80L385.55 481.92L380.05 482.00L374.56 482.06L369.06 482.09L363.56 482.10L358.07 482.09L352.57 482.05L347.07 481.99L341.57 481.87L336.08 481.65L330.58 481.17L325.08 479.56L319.59 464.77L314.09 433.09" fill="none" stroke="#00ff00" stroke-width="5.4" stroke-dasharray="7.8 7.35" stroke-dashoffset="-5.3" stroke-linejoin="miter"/>
<path d="M44.73 419.42L50.23 421.93L55.73 426.71L61.22 431.20L66.72 435.41L72.22 439.35L77.72 443.04L83.21 446.48L88.71 449.68L94.21 452.66L99.70 455.43L105.20 458.00L110.70 460.38L116.20 462.57L121.69 464.59L127.19 466.45L132.69 468.15L138.18 469.71L143.68 471.13L149.18 472.42L154.67 473.59L160.17 474.65L165.67 475.61L171.17 476.47L176.66 477.23L182.16 477.92L187.66 478.52L193.15 479.05L198.65 479.52L204.15 479.93L209.64 480.29L215.14 480.59L220.64 480.85L226.14 481.07L231.63 481.26L237.13 481.41L242.63 481.54L248.12 481.64L253.62 481.72L259.12 481.79L264.62 481.83L270.11 481.86L275.61 481.88L281.11 481.88L286.60 481.86L292.10 481.80L297.60 481.65L303.09 481.26L308.59 479.67L314.09 449.43L319.59 470.55L325.08 480.41L330.58 481.48L336.08 481.80L341.57 481.95L347.07 482.02L352.57 482.07L358.07 482.09L363.56 482.10L369.06 482.09L374.56 482.07L380.05 482.03L385.55 481.98L391.05 481.90L396.54 481.80L402.04 481.66L407.54 481.50L413.04 481.30L418.53 481.07L424.03 480.78L429.53 480.45L435.02 480.07L440.52 479.62L446.02 479.11L451.51 478.53L457.01 477.87L462.51 477.12L468.01 476.29L473.50 475.35L479.00 474.32L484.50 473.17L489.99 471.90L495.49 470.51L500.99 468.97L506.49 467.30L511.98 465.47L517.48 463.48L522.98 461.32L528.47 458.97L533.97 456.44L539.47 453.71L544.96 450.76L550.46 447.60L555.96 444.20L561.46 440.56L566.95 436.67L572.45 432.51L577.95 428.07L583.44 423.35L588.94 418.32L594.44 415.69" fill="none" stroke="#0000ff" stroke-width="4.2" stroke-dasharray="7.8 7.35" stroke-dashoffset="0" stroke-linejoin="miter"/>
<g fill="none" stroke="#0000ff" stroke-width="4.0">
<path d="M41.13 419.42H48.33M44.73 415.47V423.37"/>
<path d="M46.63 421.93H53.83M50.23 417.98V425.88"/>
<path d="M52.13 426.71H59.33M55.73 422.76V430.66"/>
<path d="M57.62 431.20H64.82M61.22 427.25V435.15"/>
<path d="M63.12 435.41H70.32M66.72 431.46V439.36"/>
<path d="M68.62 439.35H75.82M72.22 435.40V443.30"/>
<path d="M74.12 443.04H81.32M77.72 439.09V446.99"/>
<path d="M79.61 446.48H86.81M83.21 442.53V450.43"/>
<path d="M85.11 449.68H92.31M88.71 445.73V453.63"/>
<path d="M90.61 452.66H97.81M94.21 448.71V456.61"/>
<path d="M96.10 455.43H103.30M99.70 451.48V459.38"/>
<path d="M101.60 458.00H108.80M105.20 454.05V461.95"/>
<path d="M107.10 460.38H114.30M110.70 456.43V464.33"/>
<path d="M112.60 462.57H119.80M116.20 458.62V466.52"/>
<path d="M118.09 464.59H125.29M121.69 460.64V468.54"/>
<path d="M123.59 466.45H130.79M127.19 462.50V470.40"/>
<path d="M129.09 468.15H136.29M132.69 464.20V472.10"/>
<path d="M134.58 469.71H141.78M138.18 465.76V473.66"/>
<path d="M140.08 471.13H147.28M143.68 467.18V475.08"/>
<path d="M145.58 472.42H152.78M149.18 468.47V476.37"/>
<path d="M151.07 473.59H158.27M154.67 469.64V477.54"/>
<path d="M156.57 474.65H163.77M160.17 470.70V478.60"/>
<path d="M162.07 475.61H169.27M165.67 471.66V479.56"/>
<path d="M167.57 476.47H174.77M171.17 472.52V480.42"/>
<path d="M173.06 477.23H180.26M176.66 473.28V481.18"/>
<path d="M178.56 477.92H185.76M182.16 473.97V481.87"/>
<path d="M184.06 478.52H191.26M187.66 474.57V482.47"/>
<path d="M189.55 479.05H196.75M193.15 475.10V483.00"/>
<path d="M195.05 479.52H202.25M198.65 475.57V483.47"/>
<path d="M200.55 479.93H207.75M204.15 475.98V483.88"/>
<path d="M206.04 480.29H213.24M209.64 476.34V484.24"/>
<path d="M211.54 480.59H218.74M215.14 476.64V484.54"/>
<path d="M217.04 480.85H224.24M220.64 476.90V484.80"/>
<path d="M222.54 481.07H229.74M226.14 477.12V485.02"/>
<path d="M228.03 481.26H235.23M231.63 477.31V485.21"/>
<path d="M233.53 481.41H240.73M237.13 477.46V485.36"/>
<path d="M239.03 481.54H246.23M242.63 477.59V485.49"/>
<path d="M244.52 481.64H251.72M248.12 477.69V485.59"/>
<path d="M250.02 481.72H257.22M253.62 477.77V485.67"/>
<path d="M255.52 481.79H262.72M259.12 477.84V485.74"/>
<path d="M261.02 481.83H268.22M264.62 477.88V485.78"/>
<path d="M266.51 481.86H273.71M270.11 477.91V485.81"/>
<path d="M272.01 481.88H279.21M275.61 477.93V485.83"/>
<path d="M277.51 481.88H284.71M281.11 477.93V485.83"/>
<path d="M283.00 481.86H290.20M286.60 477.91V485.81"/>
<path d="M288.50 481.80H295.70M292.10 477.85V485.75"/>
<path d="M294.00 481.65H301.20M297.60 477.70V485.60"/>
<path d="M299.49 481.26H306.69M303.09 477.31V485.21"/>
<path d="M304.99 479.67H312.19M308.59 475.72V483.62"/>
<path d="M310.49 449.43H317.69M314.09 445.48V453.38"/>
<path d="M315.99 470.55H323.19M319.59 466.60V474.50"/>
<path d="M321.48 480.41H328.68M325.08 476.46V484.36"/>
<path d="M326.98 481.48H334.18M330.58 477.53V485.43"/>
<path d="M332.48 481.80H339.68M336.08 477.85V485.75"/>
<path d="M337.97 481.95H345.17M341.57 478.00V485.90"/>
<path d="M343.47 482.02H350.67M347.07 478.07V485.97"/>
<path d="M348.97 482.07H356.17M352.57 478.12V486.02"/>
<path d="M354.47 482.09H361.67M358.07 478.14V486.04"/>
<path d="M359.96 482.10H367.16M363.56 478.15V486.05"/>
<path d="M365.46 482.09H372.66M369.06 478.14V486.04"/>
<path d="M370.96 482.07H378.16M374.56 478.12V486.02"/>
<path d="M376.45 482.03H383.65M380.05 478.08V485.98"/>
<path d="M381.95 481.98H389.15M385.55 478.03V485.93"/>
<path d="M387.45 481.90H394.65M391.05 477.95V485.85"/>
<path d="M392.94 481.80H400.14M396.54 477.85V485.75"/>
<path d="M398.44 481.66H405.64M402.04 477.71V485.61"/>
<path d="M403.94 481.50H411.14M407.54 477.55V485.45"/>
<path d="M409.44 481.30H416.64M413.04 477.35V485.25"/>
<path d="M414.93 481.07H422.13M418.53 477.12V485.02"/>
<path d="M420.43 480.78H427.63M424.03 476.83V484.73"/>
<path d="M425.93 480.45H433.13M429.53 476.50V484.40"/>
<path d="M431.42 480.07H438.62M435.02 476.12V484.02"/>
<path d="M436.92 479.62H444.12M440.52 475.67V483.57"/>
<path d="M442.42 479.11H449.62M446.02 475.16V483.06"/>
<path d="M447.91 478.53H455.11M451.51 474.58V482.48"/>
<path d="M453.41 477.87H460.61M457.01 473.92V481.82"/>
<path d="M458.91 477.12H466.11M462.51 473.17V481.07"/>
<path d="M464.41 476.29H471.61M468.01 472.34V480.24"/>
<path d="M469.90 475.35H477.10M473.50 471.40V479.30"/>
<path d="M475.40 474.32H482.60M479.00 470.37V478.27"/>
<path d="M480.90 473.17H488.10M484.50 469.22V477.12"/>
<path d="M486.39 471.90H493.59M489.99 467.95V475.85"/>
<path d="M491.89 470.51H499.09M495.49 466.56V474.46"/>
<path d="M497.39 468.97H504.59M500.99 465.02V472.92"/>
<path d="M502.89 467.30H510.09M506.49 463.35V471.25"/>
<path d="M508.38 465.47H515.58M511.98 461.52V469.42"/>
<path d="M513.88 463.48H521.08M517.48 459.53V467.43"/>
<path d="M519.38 461.32H526.58M522.98 457.37V465.27"/>
<path d="M524.87 458.97H532.07M528.47 455.02V462.92"/>
<path d="M530.37 456.44H537.57M533.97 452.49V460.39"/>
<path d="M535.87 453.71H543.07M539.47 449.76V457.66"/>
<path d="M541.36 450.76H548.56M544.96 446.81V454.71"/>
<path d="M546.86 447.60H554.06M550.46 443.65V451.55"/>
<path d="M552.36 444.20H559.56M555.96 440.25V448.15"/>
<path d="M557.86 440.56H565.06M561.46 436.61V444.51"/>
<path d="M563.35 436.67H570.55M566.95 432.72V440.62"/>
<path d="M568.85 432.51H576.05M572.45 428.56V436.46"/>
<path d="M574.35 428.07H581.55M577.95 424.12V432.02"/>
<path d="M579.84 423.35H587.04M583.44 419.40V427.30"/>
<path d="M585.34 418.32H592.54M588.94 414.37V422.27"/>
<path d="M590.84 415.69H598.04M594.44 411.74V419.64"/>
</g>
<path d="M44.73 435.09L50.23 436.97L55.73 440.56L61.22 443.93L66.72 447.08L72.22 450.04L77.72 452.80L83.21 455.38L88.71 457.79L94.21 460.02L99.70 462.10L105.20 464.02L110.70 465.81L116.20 467.45L121.69 468.97L127.19 470.36L132.69 471.64L138.18 472.81L143.68 473.87L149.18 474.84L154.67 475.72L160.17 476.52L165.67 477.23L171.17 477.88L176.66 478.45L182.16 478.96L187.66 479.42L193.15 479.82L198.65 480.17L204.15 480.47L209.64 480.74L215.14 480.97L220.64 481.16L226.14 481.33L231.63 481.47L237.13 481.58L242.63 481.68L248.12 481.76L253.62 481.82L259.12 481.86L264.62 481.90L270.11 481.92L275.61 481.94L281.11 481.94L286.60 481.92L292.10 481.87L297.60 481.76L303.09 481.47L308.59 480.28L314.09 457.60L319.59 473.44L325.08 480.83L330.58 481.63L336.08 481.88L341.57 481.99L347.07 482.04L352.57 482.08L358.07 482.09L363.56 482.10L369.06 482.10L374.56 482.08L380.05 482.05L385.55 482.01L391.05 481.95L396.54 481.87L402.04 481.77L407.54 481.65L413.04 481.50L418.53 481.32L424.03 481.11L429.53 480.86L435.02 480.57L440.52 480.24L446.02 479.86L451.51 479.42L457.01 478.92L462.51 478.37L468.01 477.74L473.50 477.04L479.00 476.26L484.50 475.40L489.99 474.45L495.49 473.40L500.99 472.25L506.49 471.00L511.98 469.63L517.48 468.13L522.98 466.51L528.47 464.75L533.97 462.85L539.47 460.80L544.96 458.60L550.46 456.22L555.96 453.68L561.46 450.95L566.95 448.03L572.45 444.91L577.95 441.58L583.44 438.04L588.94 434.27L594.44 432.29" fill="none" stroke="#ff00ff" stroke-width="2.0" stroke-dasharray="7.8 7.35" stroke-dashoffset="0" stroke-linejoin="miter"/>
<g fill="none" stroke="#ff00ff" stroke-width="1.9">
<rect x="41.78" y="431.79" width="5.90" height="6.60"/>
<rect x="47.28" y="433.67" width="5.90" height="6.60"/>
<rect x="52.78" y="437.26" width="5.90" height="6.60"/>
<rect x="58.27" y="440.63" width="5.90" height="6.60"/>
<rect x="63.77" y="443.78" width="5.90" height="6.60"/>
<rect x="69.27" y="446.74" width="5.90" height="6.60"/>
<rect x="74.77" y="449.50" width="5.90" height="6.60"/>
<rect x="80.26" y="452.08" width="5.90" height="6.60"/>
<rect x="85.76" y="454.49" width="5.90" height="6.60"/>
<rect x="91.26" y="456.72" width="5.90" height="6.60"/>
<rect x="96.75" y="458.80" width="5.90" height="6.60"/>
<rect x="102.25" y="460.72" width="5.90" height="6.60"/>
<rect x="107.75" y="462.51" width="5.90" height="6.60"/>
<rect x="113.25" y="464.15" width="5.90" height="6.60"/>
<rect x="118.74" y="465.67" width="5.90" height="6.60"/>
<rect x="124.24" y="467.06" width="5.90" height="6.60"/>
<rect x="129.74" y="468.34" width="5.90" height="6.60"/>
<rect x="135.23" y="469.51" width="5.90" height="6.60"/>
<rect x="140.73" y="470.57" width="5.90" height="6.60"/>
<rect x="146.23" y="471.54" width="5.90" height="6.60"/>
<rect x="151.72" y="472.42" width="5.90" height="6.60"/>
<rect x="157.22" y="473.22" width="5.90" height="6.60"/>
<rect x="162.72" y="473.93" width="5.90" height="6.60"/>
<rect x="168.22" y="474.58" width="5.90" height="6.60"/>
<rect x="173.71" y="475.15" width="5.90" height="6.60"/>
<rect x="179.21" y="475.66" width="5.90" height="6.60"/>
<rect x="184.71" y="476.12" width="5.90" height="6.60"/>
<rect x="190.20" y="476.52" width="5.90" height="6.60"/>
<rect x="195.70" y="476.87" width="5.90" height="6.60"/>
<rect x="201.20" y="477.17" width="5.90" height="6.60"/>
<rect x="206.69" y="477.44" width="5.90" height="6.60"/>
<rect x="212.19" y="477.67" width="5.90" height="6.60"/>
<rect x="217.69" y="477.86" width="5.90" height="6.60"/>
<rect x="223.19" y="478.03" width="5.90" height="6.60"/>
<rect x="228.68" y="478.17" width="5.90" height="6.60"/>
<rect x="234.18" y="478.28" width="5.90" height="6.60"/>
<rect x="239.68" y="478.38" width="5.90" height="6.60"/>
<rect x="245.17" y="478.46" width="5.90" height="6.60"/>
<rect x="250.67" y="478.52" width="5.90" height="6.60"/>
<rect x="256.17" y="478.56" width="5.90" height="6.60"/>
<rect x="261.67" y="478.60" width="5.90" height="6.60"/>
<rect x="267.16" y="478.62" width="5.90" height="6.60"/>
<rect x="272.66" y="478.64" width="5.90" height="6.60"/>
<rect x="278.16" y="478.64" width="5.90" height="6.60"/>
<rect x="283.65" y="478.62" width="5.90" height="6.60"/>
<rect x="289.15" y="478.57" width="5.90" height="6.60"/>
<rect x="294.65" y="478.46" width="5.90" height="6.60"/>
<rect x="300.14" y="478.17" width="5.90" height="6.60"/>
<rect x="305.64" y="476.98" width="5.90" height="6.60"/>
<rect x="311.14" y="454.30" width="5.90" height="6.60"/>
<rect x="316.64" y="470.14" width="5.90" height="6.60"/>
<rect x="322.13" y="477.53" width="5.90" height="6.60"/>
<rect x="327.63" y="478.33" width="5.90" height="6.60"/>
<rect x="333.13" y="478.58" width="5.90" height="6.60"/>
<rect x="338.62" y="478.69" width="5.90" height="6.60"/>
<rect x="344.12" y="478.74" width="5.90" height="6.60"/>
<rect x="349.62" y="478.78" width="5.90" height="6.60"/>
<rect x="355.12" y="478.79" width="5.90" height="6.60"/>
<rect x="360.61" y="478.80" width="5.90" height="6.60"/>
<rect x="366.11" y="478.80" width="5.90" height="6.60"/>
<rect x="371.61" y="478.78" width="5.90" height="6.60"/>
<rect x="377.10" y="478.75" width="5.90" height="6.60"/>
<rect x="382.60" y="478.71" width="5.90" height="6.60"/>
<rect x="388.10" y="478.65" width="5.90" height="6.60"/>
<rect x="393.59" y="478.57" width="5.90" height="6.60"/>
<rect x="399.09" y="478.47" width="5.90" height="6.60"/>
<rect x="404.59" y="478.35" width="5.90" height="6.60"/>
<rect x="410.09" y="478.20" width="5.90" height="6.60"/>
<rect x="415.58" y="478.02" width="5.90" height="6.60"/>
<rect x="421.08" y="477.81" width="5.90" height="6.60"/>
<rect x="426.58" y="477.56" width="5.90" height="6.60"/>
<rect x="432.07" y="477.27" width="5.90" height="6.60"/>
<rect x="437.57" y="476.94" width="5.90" height="6.60"/>
<rect x="443.07" y="476.56" width="5.90" height="6.60"/>
<rect x="448.56" y="476.12" width="5.90" height="6.60"/>
<rect x="454.06" y="475.62" width="5.90" height="6.60"/>
<rect x="459.56" y="475.07" width="5.90" height="6.60"/>
<rect x="465.06" y="474.44" width="5.90" height="6.60"/>
<rect x="470.55" y="473.74" width="5.90" height="6.60"/>
<rect x="476.05" y="472.96" width="5.90" height="6.60"/>
<rect x="481.55" y="472.10" width="5.90" height="6.60"/>
<rect x="487.04" y="471.15" width="5.90" height="6.60"/>
<rect x="492.54" y="470.10" width="5.90" height="6.60"/>
<rect x="498.04" y="468.95" width="5.90" height="6.60"/>
<rect x="503.54" y="467.70" width="5.90" height="6.60"/>
<rect x="509.03" y="466.33" width="5.90" height="6.60"/>
<rect x="514.53" y="464.83" width="5.90" height="6.60"/>
<rect x="520.03" y="463.21" width="5.90" height="6.60"/>
<rect x="525.52" y="461.45" width="5.90" height="6.60"/>
<rect x="531.02" y="459.55" width="5.90" height="6.60"/>
<rect x="536.52" y="457.50" width="5.90" height="6.60"/>
<rect x="542.01" y="455.30" width="5.90" height="6.60"/>
<rect x="547.51" y="452.92" width="5.90" height="6.60"/>
<rect x="553.01" y="450.38" width="5.90" height="6.60"/>
<rect x="558.51" y="447.65" width="5.90" height="6.60"/>
<rect x="564.00" y="444.73" width="5.90" height="6.60"/>
<rect x="569.50" y="441.61" width="5.90" height="6.60"/>
<rect x="575.00" y="438.28" width="5.90" height="6.60"/>
<rect x="580.49" y="434.74" width="5.90" height="6.60"/>
<rect x="585.99" y="430.97" width="5.90" height="6.60"/>
<rect x="591.49" y="428.99" width="5.90" height="6.60"/>
</g>
<rect x="261.89" y="47.2" width="117.28" height="112.2" fill="#fff" stroke="#000" stroke-width="0.95"/>
<path d="M268.88 60.4H306.39" fill="none" stroke="#ff0000" stroke-width="4.6" stroke-dasharray="7.8 7.35"/>
<g fill="#ff0000" stroke="none">
<path d="M279.88 65.40L295.38 65.40L287.63 51.60Z"/>
</g>
<text font-size="12.5" y="66.30" stroke="#000" stroke-width="0.2"><tspan x="309.59">Br</tspan><tspan class="sym" x="322.19" font-size="13">Ω</tspan><tspan x="331.60" dy="-6.4" font-size="10.3" textLength="9.59" lengthAdjust="spacingAndGlyphs">−1</tspan><tspan x="346.39" dy="7.5">=</tspan><tspan x="356.69" dy="-1.1">0.1</tspan></text>
<path d="M268.88 82.2H306.39" fill="none" stroke="#00ffff" stroke-width="4.4" stroke-dasharray="7.8 7.35"/>
<g fill="#00ffff" stroke="none">
<ellipse cx="287.63" cy="82.20" rx="5.68" ry="6.1"/>
</g>
<text font-size="12.5" y="88.10" stroke="#000" stroke-width="0.2"><tspan x="309.59">Br</tspan><tspan class="sym" x="322.19" font-size="13">Ω</tspan><tspan x="331.60" dy="-6.4" font-size="10.3" textLength="9.59" lengthAdjust="spacingAndGlyphs">−1</tspan><tspan x="346.39" dy="7.5">=</tspan><tspan x="356.69" dy="-1.1">0.2</tspan></text>
<path d="M268.88 104.1H306.39" fill="none" stroke="#00ff00" stroke-width="5.4" stroke-dasharray="7.8 7.35"/>
<text font-size="12.5" y="110.00" stroke="#000" stroke-width="0.2"><tspan x="309.59">Br</tspan><tspan class="sym" x="322.19" font-size="13">Ω</tspan><tspan x="331.60" dy="-6.4" font-size="10.3" textLength="9.59" lengthAdjust="spacingAndGlyphs">−1</tspan><tspan x="346.39" dy="7.5">=</tspan><tspan x="356.69" dy="-1.1">0.4</tspan></text>
<path d="M268.88 125.8H306.39" fill="none" stroke="#0000ff" stroke-width="4.2" stroke-dasharray="7.8 7.35"/>
<g fill="none" stroke="#0000ff" stroke-width="4.0">
<path d="M284.03 125.80H291.23M287.63 121.85V129.75"/>
</g>
<text font-size="12.5" y="131.70" stroke="#000" stroke-width="0.2"><tspan x="309.59">Br</tspan><tspan class="sym" x="322.19" font-size="13">Ω</tspan><tspan x="331.60" dy="-6.4" font-size="10.3" textLength="9.59" lengthAdjust="spacingAndGlyphs">−1</tspan><tspan x="346.39" dy="7.5">=</tspan><tspan x="356.69" dy="-1.1">0.6</tspan></text>
<path d="M268.88 147.8H306.39" fill="none" stroke="#ff00ff" stroke-width="2.0" stroke-dasharray="7.8 7.35"/>
<g fill="none" stroke="#ff00ff" stroke-width="1.9">
<rect x="284.68" y="144.50" width="5.90" height="6.60"/>
</g>
<text font-size="12.5" y="153.70" stroke="#000" stroke-width="0.2"><tspan x="309.59">Br</tspan><tspan class="sym" x="322.19" font-size="13">Ω</tspan><tspan x="331.60" dy="-6.4" font-size="10.3" textLength="9.59" lengthAdjust="spacingAndGlyphs">−1</tspan><tspan x="346.39" dy="7.5">=</tspan><tspan x="356.69" dy="-1.1">0.8</tspan></text>
</svg></body></html>
